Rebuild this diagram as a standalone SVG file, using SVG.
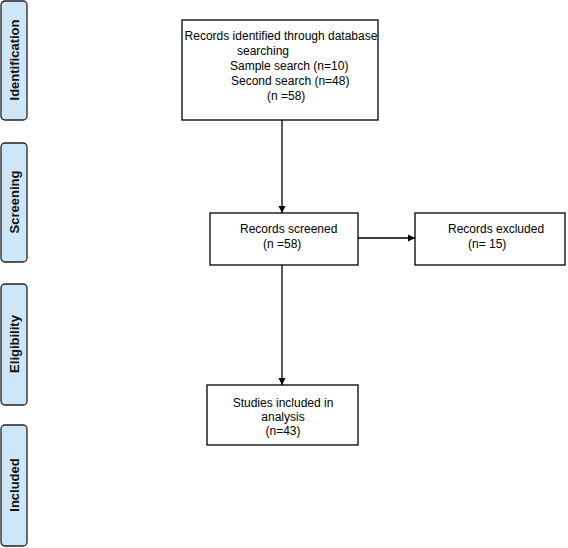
<svg xmlns="http://www.w3.org/2000/svg" width="568" height="548" viewBox="0 0 568 548">
<defs>
<style>
.phase{fill:#cde7f9;stroke:#222;stroke-width:1.3}
.ptxt{font-family:"Liberation Sans",Arial,sans-serif;font-weight:bold;font-size:13px;fill:#111;text-anchor:middle}
.box{fill:#fff;stroke:#000;stroke-width:1.3}
.txt{font-family:"Liberation Sans",Arial,sans-serif;font-size:12px;fill:#000}
.ln{stroke:#000;stroke-width:1.3;fill:none}
</style>
<marker id="ah" markerWidth="8" markerHeight="8" refX="7" refY="4" orient="auto" markerUnits="userSpaceOnUse">
<path d="M0,0.5 L7,4 L0,7.5 Z" fill="#000"/>
</marker>
</defs>
<rect width="568" height="548" fill="#fff"/>
<g id="phase-identification">
<rect class="phase" x="1" y="1" width="26" height="119" rx="4"/>
<text class="ptxt" transform="translate(19,60) rotate(-90)">Identification</text>
</g>
<g id="phase-screening">
<rect class="phase" x="1" y="143" width="26" height="119" rx="4"/>
<text class="ptxt" transform="translate(19,202) rotate(-90)">Screening</text>
</g>
<g id="phase-eligibility">
<rect class="phase" x="1" y="284" width="26" height="121" rx="4"/>
<text class="ptxt" transform="translate(19,344) rotate(-90)">Eligibility</text>
</g>
<g id="phase-included">
<rect class="phase" x="1" y="425" width="26" height="121" rx="4"/>
<text class="ptxt" transform="translate(19,485) rotate(-90)">Included</text>
</g>
<g id="connectors">
<line class="ln" x1="282" y1="120" x2="282" y2="213" marker-end="url(#ah)"/>
<line class="ln" x1="358" y1="238" x2="415" y2="238" marker-end="url(#ah)"/>
<line class="ln" x1="282" y1="265" x2="282" y2="385" marker-end="url(#ah)"/>
</g>
<g id="node-identified">
<rect class="box" x="182" y="20" width="196" height="100"/>
<text class="txt" x="281" y="40" text-anchor="middle">Records identified through database</text>
<text class="txt" x="263" y="55" text-anchor="middle">searching</text>
<text class="txt" x="230" y="70">Sample search (n=10)</text>
<text class="txt" x="231" y="85">Second search (n=48)</text>
<text class="txt" x="267" y="100">(n =58)</text>
</g>
<g id="node-screened">
<rect class="box" x="210" y="213" width="148" height="52"/>
<text class="txt" x="240" y="233">Records screened</text>
<text class="txt" x="263" y="248">(n =58)</text>
</g>
<g id="node-excluded">
<rect class="box" x="415" y="213" width="150" height="52"/>
<text class="txt" x="448" y="233">Records excluded</text>
<text class="txt" x="468" y="248">(n= 15)</text>
</g>
<g id="node-included">
<rect class="box" x="207" y="385" width="151" height="60"/>
<text class="txt" x="283" y="407" text-anchor="middle">Studies included in</text>
<text class="txt" x="283" y="421" text-anchor="middle">analysis</text>
<text class="txt" x="283" y="435" text-anchor="middle">(n=43)</text>
</g>
</svg>
